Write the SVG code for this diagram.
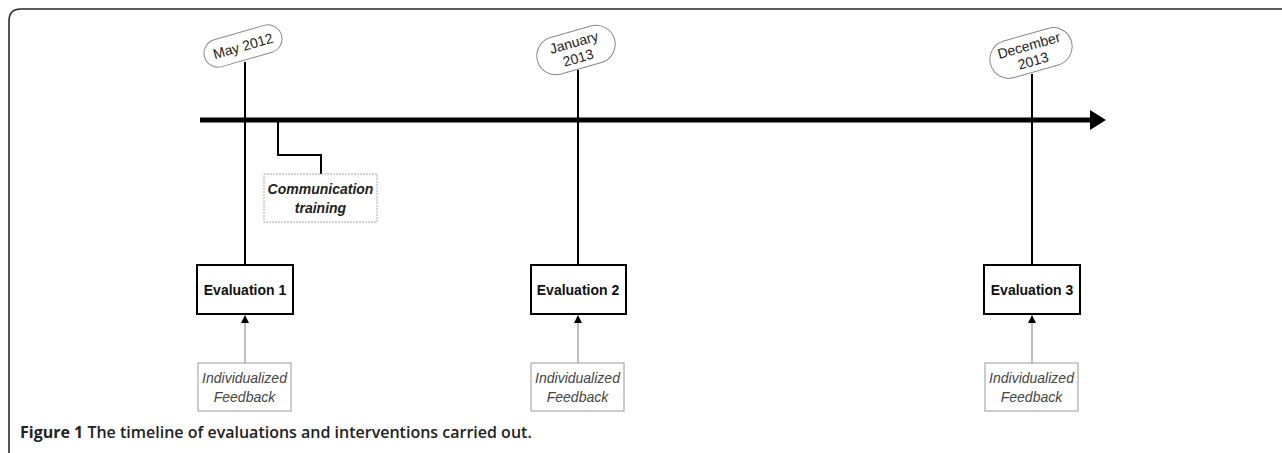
<svg xmlns="http://www.w3.org/2000/svg" width="1282" height="453" viewBox="0 0 1282 453">
<style>
.frame{fill:none;stroke:#2a2a2a;stroke-width:1.6}
.pill{fill:#fff;stroke:#888;stroke-width:1}
.ptxt{font-family:"Liberation Sans",Arial,sans-serif;font-size:14px;fill:#222;text-anchor:middle}
.vline{stroke:#000;stroke-width:2;fill:none}
.evbox{fill:#fff;stroke:#000;stroke-width:2}
.evtxt{font-family:"Liberation Sans",Arial,sans-serif;font-size:14px;font-weight:bold;fill:#111;text-anchor:middle}
.fbbox{fill:#fff;stroke:#999;stroke-width:1}
.fbtxt{font-family:"Liberation Sans",Arial,sans-serif;font-size:14px;font-style:italic;fill:#444;text-anchor:middle}
.fbline{stroke:#aaa;stroke-width:1.5;fill:none}
.ctbox{fill:#fff;stroke:#aaa;stroke-width:1;stroke-dasharray:2 1}
.cttxt{font-family:"Liberation Sans",Arial,sans-serif;font-size:14px;font-style:italic;font-weight:bold;fill:#222;text-anchor:middle}
.cap{font-family:"Open Sans","Liberation Sans",sans-serif;font-size:16px;font-weight:bold;fill:#222}
</style>
<defs>
<marker id="big" markerWidth="4" markerHeight="4" refX="0" refY="2" orient="auto" markerUnits="strokeWidth">
<path d="M0,0 L3.2,2 L0,4 Z" fill="#000"/>
</marker>
<marker id="small" markerWidth="8" markerHeight="8" refX="7" refY="4" orient="auto" markerUnits="userSpaceOnUse">
<path d="M0,0 L8,4 L0,8 Z" fill="#000"/>
</marker>
</defs>
<path class="frame" d="M9,453 V21 Q9,9 21,9 H1282"/>
<g id="connectors">
<line x1="200" y1="120" x2="1090" y2="120" stroke="#000" stroke-width="5" marker-end="url(#big)"/>
<line class="vline" x1="245" y1="62" x2="245" y2="265"/>
<line class="vline" x1="578" y1="70" x2="578" y2="265"/>
<line class="vline" x1="1032" y1="74" x2="1032" y2="265"/>
<polyline class="vline" points="278,120 278,155 321,155 321,174"/>
<line class="fbline" x1="245" y1="363" x2="245" y2="316" marker-end="url(#small)"/>
<line class="fbline" x1="578" y1="363" x2="578" y2="316" marker-end="url(#small)"/>
<line class="fbline" x1="1032" y1="363" x2="1032" y2="316" marker-end="url(#small)"/>
</g>
<g id="date1" transform="translate(243,46) rotate(-16)">
<rect class="pill" x="-40" y="-14" width="80" height="28" rx="14"/>
<text class="ptxt" x="0" y="5">May 2012</text>
</g>
<g id="date2" transform="translate(576,50) rotate(-16)">
<rect class="pill" x="-40" y="-19" width="80" height="38" rx="19"/>
<text class="ptxt" x="0" y="-3">January</text>
<text class="ptxt" x="0" y="13">2013</text>
</g>
<g id="date3" transform="translate(1031,53) rotate(-16)">
<rect class="pill" x="-42" y="-19" width="84" height="38" rx="19"/>
<text class="ptxt" x="0" y="-3">December</text>
<text class="ptxt" x="0" y="13">2013</text>
</g>
<g id="comm">
<rect class="ctbox" x="264" y="174" width="113" height="48"/>
<text class="cttxt" x="320.5" y="194">Communication</text>
<text class="cttxt" x="320.5" y="213">training</text>
</g>
<g id="eval1">
<rect class="evbox" x="197" y="265" width="96" height="49"/>
<text class="evtxt" x="245" y="295">Evaluation 1</text>
</g>
<g id="eval2">
<rect class="evbox" x="531" y="265" width="95" height="49"/>
<text class="evtxt" x="578" y="295">Evaluation 2</text>
</g>
<g id="eval3">
<rect class="evbox" x="984" y="265" width="96" height="49"/>
<text class="evtxt" x="1032" y="295">Evaluation 3</text>
</g>
<g id="fb1">
<rect class="fbbox" x="198" y="363" width="93" height="48"/>
<text class="fbtxt" x="244.5" y="383">Individualized</text>
<text class="fbtxt" x="244.5" y="402">Feedback</text>
</g>
<g id="fb2">
<rect class="fbbox" x="531" y="363" width="93" height="48"/>
<text class="fbtxt" x="577.5" y="383">Individualized</text>
<text class="fbtxt" x="577.5" y="402">Feedback</text>
</g>
<g id="fb3">
<rect class="fbbox" x="985" y="363" width="93" height="48"/>
<text class="fbtxt" x="1031.5" y="383">Individualized</text>
<text class="fbtxt" x="1031.5" y="402">Feedback</text>
</g>
<text class="cap" x="20" y="438">Figure 1 <tspan font-weight="600">The timeline of evaluations and interventions carried out.</tspan></text>
</svg>
